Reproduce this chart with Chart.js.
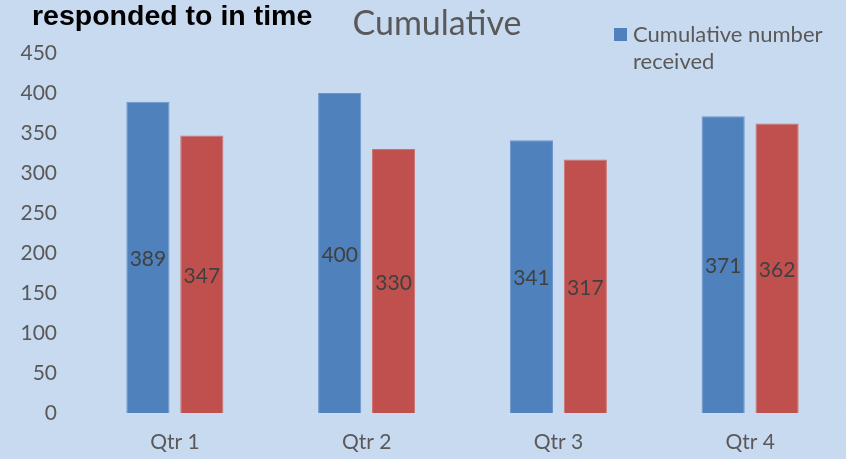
<!DOCTYPE html>
<html>
<head>
<meta charset="utf-8">
<script src="https://cdn.jsdelivr.net/npm/chart.js@4"></script>
<style>
  html, body { margin: 0; padding: 0; background: #c8daf0; }
  #wrap { position: relative; width: 846px; height: 459px; }
</style>
</head>
<body>
<div id="wrap"><canvas id="chart" width="846" height="459"></canvas></div>
<script>
const quarters = ['Qtr 1', 'Qtr 2', 'Qtr 3', 'Qtr 4'];
const received = [389, 400, 341, 371];
const respondedInTime = [347, 330, 317, 362];
const yTicks = [0, 50, 100, 150, 200, 250, 300, 350, 400, 450];

const FONT = 'Lato, "Open Sans", sans-serif';

// values printed in the middle of each bar
const barValues = {
  id: 'barValues',
  afterDatasetsDraw(chart) {
    const ctx = chart.ctx;
    ctx.save();
    ctx.font = '21px ' + FONT;
    ctx.fillStyle = '#404040';
    ctx.textAlign = 'center';
    ctx.textBaseline = 'middle';
    chart.data.datasets.forEach((ds, i) => {
      chart.getDatasetMeta(i).data.forEach((bar, j) => {
        ctx.fillText(ds.data[j], bar.x, (bar.y + bar.base) / 2 + 2);
      });
    });
    ctx.restore();
  }
};

// header: heading text, title and a one-item legend
const header = {
  id: 'header',
  afterDraw(chart) {
    const ctx = chart.ctx;
    ctx.save();
    ctx.textBaseline = 'alphabetic';

    ctx.font = 'bold 28.5px "Liberation Sans", Arial, sans-serif';
    ctx.fillStyle = '#000000';
    ctx.textAlign = 'left';
    ctx.fillText('responded to in time', 32, 25);

    ctx.font = '34px ' + FONT;
    ctx.fillStyle = '#595959';
    ctx.textAlign = 'center';
    ctx.fillText('Cumulative', 437, 35);

    const ds = chart.data.datasets[0];
    ctx.fillStyle = ds.backgroundColor;
    ctx.fillRect(614, 28, 13, 13);
    ctx.font = '22px ' + FONT;
    ctx.fillStyle = '#595959';
    ctx.textAlign = 'left';
    ctx.fillText('Cumulative number', 633, 42);
    ctx.fillText('received', 633, 69);
    ctx.restore();
  }
};

new Chart(document.getElementById('chart'), {
  type: 'bar',
  data: {
    labels: quarters,
    datasets: [
      {
        label: 'Cumulative number received',
        data: received,
        backgroundColor: '#4f81bd',
        borderColor: '#6a95cb',
        borderWidth: 1,
        categoryPercentage: 0.5625,
        barPercentage: 0.8
      },
      {
        label: 'Cumulative number responded to in time',
        data: respondedInTime,
        backgroundColor: '#c0504d',
        borderColor: '#cc716f',
        borderWidth: 1,
        categoryPercentage: 0.5625,
        barPercentage: 0.8
      }
    ]
  },
  options: {
    responsive: false,
    animation: false,
    devicePixelRatio: 1,
    layout: { padding: { top: 53, left: 0, right: 0, bottom: 0 } },
    plugins: {
      legend: { display: false },
      title: { display: false },
      tooltip: { enabled: false }
    },
    scales: {
      x: {
        grid: { display: false, drawTicks: false },
        border: { display: true, color: '#d9d9d9', width: 1 },
        ticks: { color: '#595959', font: { family: FONT, size: 21 }, padding: 17 },
        afterFit(scale) { scale.height = 46; }
      },
      y: {
        min: 0,
        max: 450,
        afterBuildTicks(scale) { scale.ticks = yTicks.map(v => ({ value: v })); },
        grid: { display: false, drawTicks: false },
        border: { display: false },
        ticks: { color: '#595959', font: { family: FONT, size: 21 }, padding: 22 },
        afterFit(scale) { scale.width = 79; }
      }
    }
  },
  plugins: [barValues, header]
});
</script>
</body>
</html>
